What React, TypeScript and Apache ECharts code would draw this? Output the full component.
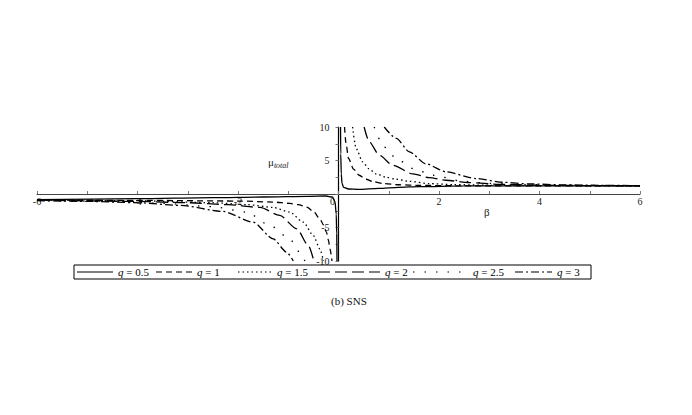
import React, { useEffect, useRef } from "react";
import * as echarts from "echarts";

// β tick labels and μ tick labels
const xTicks = [-6, -4, -2, 0, 2, 4, 6];
const yTicks = [-10, -5, 5, 10];

// Legend labels
const qLabels = ["q = 0.5", "q = 1", "q = 1.5", "q = 2", "q = 2.5", "q = 3"];

// Positive-β branches [β, μ_total]
const q05Pos = [[0.04, 10], [0.045, 6], [0.055, 3], [0.07, 1.6], [0.1, 1.0], [0.2, 0.75], [0.4, 0.7], [0.8, 0.85], [1.2, 1.0], [1.6, 1.1], [2.5, 1.2], [4, 1.22], [6, 1.22]];
const q1Pos = [[0.12, 10], [0.15, 7.5], [0.2, 5.3], [0.3, 3.7], [0.41, 2.8], [0.55, 2.2], [0.68, 1.85], [0.9, 1.55], [1.2, 1.38], [1.6, 1.28], [2.5, 1.22], [4, 1.22], [6, 1.22]];
const q15Pos = [[0.28, 10], [0.35, 6.8], [0.48, 4.8], [0.6, 3.8], [0.75, 3.0], [0.95, 2.5], [1.15, 2.2], [1.4, 1.9], [1.8, 1.55], [2.3, 1.4], [3, 1.3], [4, 1.24], [6, 1.22]];
const q2Pos = [[0.51, 10], [0.61, 7.8], [0.81, 5.8], [1.08, 4.3], [1.48, 3.0], [1.8, 2.45], [2.14, 2.05], [2.6, 1.7], [3.2, 1.45], [4, 1.32], [5, 1.25], [6, 1.22]];
const q25Pos = [[0.71, 10], [0.91, 7.0], [1.15, 5.3], [1.48, 3.8], [1.88, 2.8], [2.47, 1.9], [3, 1.6], [3.6, 1.42], [4.5, 1.3], [6, 1.24]];
const q3Pos = [[0.91, 10], [1.15, 8.3], [1.41, 6.3], [1.74, 4.5], [2.14, 3.3], [2.74, 2.3], [3.27, 1.75], [3.8, 1.5], [4.5, 1.36], [5.2, 1.29], [6, 1.25]];

// Negative-β branches [β, μ_total]
const q05Neg = [[-6, -0.85], [-4, -0.7], [-2.5, -0.55], [-1.5, -0.45], [-0.6, -0.35], [-0.25, -0.3], [-0.12, -0.45], [-0.07, -1.1], [-0.045, -3], [-0.035, -6], [-0.03, -10]];
const q1Neg = [[-6, -0.9], [-4, -0.95], [-2, -1.05], [-1.3, -1.2], [-0.97, -1.4], [-0.8, -1.6], [-0.63, -1.95], [-0.5, -2.6], [-0.37, -3.7], [-0.3, -4.6], [-0.24, -5.7], [-0.2, -6.9], [-0.17, -8.2], [-0.13, -10]];
const q15Neg = [[-6, -0.9], [-4, -1.0], [-2.5, -1.3], [-1.8, -1.6], [-1.3, -2.0], [-0.97, -2.7], [-0.7, -4.2], [-0.5, -6.2], [-0.37, -8.2], [-0.3, -10]];
const q2Neg = [[-6, -0.9], [-4, -1.1], [-3, -1.3], [-2.2, -1.6], [-1.56, -2.0], [-1.17, -3.2], [-0.83, -5.2], [-0.6, -7.7], [-0.49, -10]];
const q25Neg = [[-6, -0.95], [-4.5, -1.1], [-3.5, -1.4], [-2.5, -1.9], [-1.83, -2.7], [-1.36, -4.7], [-0.97, -6.7], [-0.77, -8.7], [-0.67, -10]];
const q3Neg = [[-6, -1.0], [-5, -1.1], [-4, -1.3], [-3.15, -1.7], [-2.3, -2.6], [-1.7, -4.2], [-1.3, -6.7], [-1.03, -8.7], [-0.9, -10]];

const dashes: any[] = ["solid", [6, 4], [1.5, 3], [12, 5], [1.5, 10], [8, 3, 2, 3]];
const branches = [
  { pos: q05Pos, neg: q05Neg },
  { pos: q1Pos, neg: q1Neg },
  { pos: q15Pos, neg: q15Neg },
  { pos: q2Pos, neg: q2Neg },
  { pos: q25Pos, neg: q25Neg },
  { pos: q3Pos, neg: q3Neg },
];

// Legend layout (pixels)
const legendSampleX = [[77, 113], [156, 192], [238, 272], [318, 380], [413, 467], [515, 552]];
const legendLabelX = [118, 197, 277, 385, 473, 557];

const FONT = "Liberation Serif";

export default function App() {
  const ref = useRef<HTMLDivElement>(null);
  useEffect(() => {
    if (!ref.current) return;
    const chart = echarts.init(ref.current, undefined, { renderer: "svg" });
    const series: any[] = [];
    branches.forEach((b, i) => {
      [b.pos, b.neg].forEach((d) => {
        series.push({
          type: "line",
          name: qLabels[i],
          data: d,
          symbol: "none",
          smooth: 0.25,
          smoothMonotone: "x",
          clip: true,
          lineStyle: { color: "#000", width: 1.3, type: dashes[i] },
        });
      });
    });

    const gridTop = 127;
    const gridBottom = 154;
    const gridLeft = 37;
    const gridRight = 52;
    const gh = 415 - gridTop - gridBottom;
    const gw = 692 - gridLeft - gridRight;

    const legendEls: any[] = [
      { type: "rect", shape: { x: 74, y: 265, width: 517, height: 14 }, style: { fill: "none", stroke: "#000", lineWidth: 1 } },
    ];
    qLabels.forEach((lab, i) => {
      const [x1, x2] = legendSampleX[i];
      const d = dashes[i];
      legendEls.push({
        type: "line",
        shape: { x1, y1: 272, x2, y2: 272 },
        style: { stroke: "#000", lineWidth: 1.2, lineDash: d === "solid" ? null : d },
      });
      legendEls.push({
        type: "text",
        x: legendLabelX[i],
        y: 272,
        style: {
          text: "{i|q}" + lab.slice(1),
          verticalAlign: "middle",
          fontFamily: FONT,
          fontSize: 11,
          fill: "#000",
          rich: { i: { fontFamily: FONT, fontSize: 11, fontStyle: "italic", fill: "#000" } },
        },
      });
    });

    chart.setOption({
      animation: false,
      backgroundColor: "#fff",
      textStyle: { fontFamily: FONT },
      grid: { left: gridLeft, right: gridRight, top: gridTop, bottom: gridBottom, containLabel: false, outerBoundsMode: "none" } as any,
      title: {
        text: "(b) SNS",
        left: 326,
        top: 290,
        textStyle: { fontFamily: FONT, fontSize: 11, fontWeight: "normal", color: "#111" },
      },
      xAxis: {
        type: "value",
        min: -6,
        max: 6,
        interval: 2,
        position: "bottom",
        offset: -gh / 2,
        axisLine: { onZero: false, lineStyle: { color: "#444", width: 1 } },
        axisTick: { show: true, inside: true, length: 3, lineStyle: { color: "#777" } },
        minorTick: { show: true, splitNumber: 2, length: 3, lineStyle: { color: "#777" } },
        splitLine: { show: false },
        axisLabel: {
          margin: 2,
          fontSize: 10,
          color: "#222",
          fontFamily: FONT,
          formatter: (v: number) => (xTicks.indexOf(v) < 0 ? "" : v === 0 ? "{z|0}" : String(v)),
          rich: { z: { padding: [0, 12, 0, 0], fontSize: 10, fontFamily: FONT, color: "#222" } },
        },
      },
      yAxis: {
        type: "value",
        min: -10,
        max: 10,
        interval: 5,
        position: "left",
        offset: -gw / 2,
        axisLine: { onZero: false, lineStyle: { color: "#000", width: 1.2 } },
        axisTick: { show: true, length: 3, lineStyle: { color: "#777" } },
        minorTick: { show: true, splitNumber: 2, length: 3, lineStyle: { color: "#777" } },
        splitLine: { show: false },
        axisLabel: {
          margin: 9,
          fontSize: 10,
          color: "#222",
          fontFamily: FONT,
          formatter: (v: number) => (yTicks.indexOf(v) >= 0 ? String(v) : ""),
        },
      },
      graphic: [
        {
          type: "text",
          x: 268,
          y: 155,
          style: {
            text: "{m|μ}{s|total}",
            fill: "#222",
            rich: {
              m: { fontFamily: FONT, fontSize: 11, fill: "#222" },
              s: { fontFamily: FONT, fontSize: 8, fontStyle: "italic", fill: "#222", padding: [6, 0, 0, 0] },
            },
          },
        },
        {
          type: "text",
          x: 484,
          y: 206,
          style: { text: "β", fontFamily: FONT, fontSize: 11, fill: "#222" },
        },
        ...legendEls,
      ],
      series,
    });
    return () => chart.dispose();
  }, []);
  return <div ref={ref} style={{ position: "fixed", left: 0, top: 0, width: 692, height: 415, background: "#fff" }} />;
}
